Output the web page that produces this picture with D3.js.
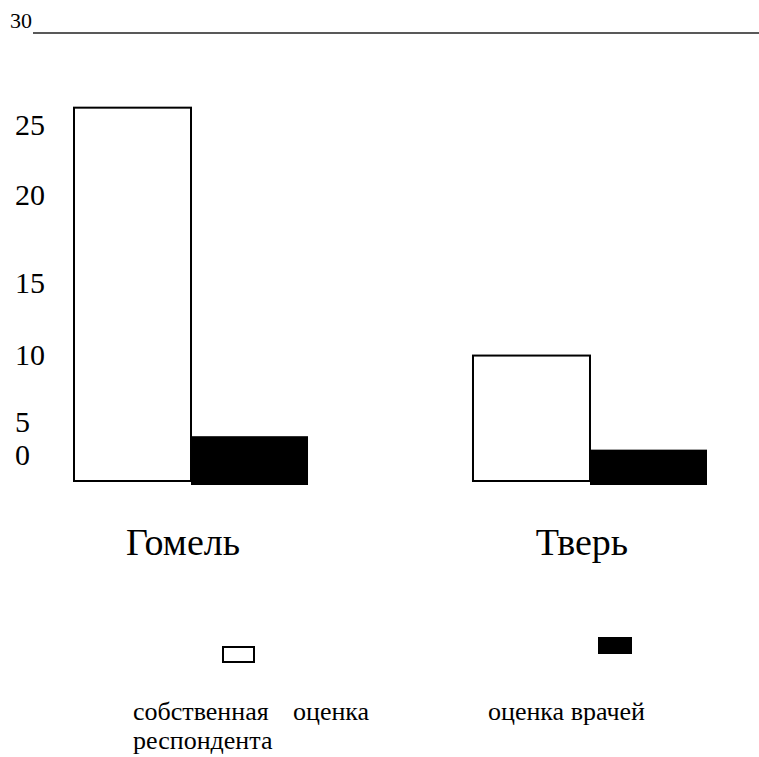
<!DOCTYPE html>
<html lang="ru">
<head>
  <meta charset="UTF-8">
  <title>Гомель / Тверь</title>
  <script src="https://cdn.jsdelivr.net/npm/d3@7"></script>
  <style>
    body { margin: 0; background: #fff; }
    svg text { font-family: "Liberation Serif", "Times New Roman", serif; fill: #000; }
  </style>
</head>
<body>
  <div id="chart"></div>
  <script>
    // data
    const cities = ['Гомель', 'Тверь'];
    const series = ['own', 'doctors'];
    const ownValues = [25, 8.4];
    const doctorValues = [3, 2.1];
    const tickLabels = [0, 5, 10, 15, 20, 25];
    const legendLabels = [['собственная', 'оценка', 'респондента'], ['оценка врачей']];

    const width = 759, height = 757;

    const svg = d3.select('#chart').append('svg')
      .attr('width', width)
      .attr('height', height);

    const y = d3.scaleLinear().domain([0, 30]).range([481, 33]);

    // the tick labels in the scan are not evenly spaced, so they get their own scale
    const yLabel = d3.scaleLinear()
      .domain(tickLabels)
      .range([465, 432, 365, 293, 205, 135]);

    const x0 = d3.scaleBand().domain(cities).range([74, 707]).paddingInner(0.4135);
    const x1 = d3.scaleBand().domain(series).range([0, x0.bandwidth()]);

    // top line with "30"
    svg.append('line')
      .attr('x1', 33).attr('x2', width)
      .attr('y1', y(30)).attr('y2', y(30))
      .attr('stroke', '#222').attr('stroke-width', 1.5);
    svg.append('text')
      .attr('x', 10).attr('y', y(30) - 5)
      .attr('font-size', 22)
      .text('30');

    svg.append('g').selectAll('text')
      .data(tickLabels)
      .join('text')
      .attr('x', 15)
      .attr('y', d => yLabel(d))
      .attr('font-size', 30)
      .text(d => d);

    const groups = svg.append('g').selectAll('g')
      .data(cities)
      .join('g')
      .attr('transform', d => `translate(${x0(d)},0)`);

    groups.append('rect')
      .attr('x', x1('own'))
      .attr('width', x1.bandwidth())
      .attr('y', (d, i) => y(ownValues[i]))
      .attr('height', (d, i) => y(0) - y(ownValues[i]))
      .attr('fill', '#fff')
      .attr('stroke', '#000')
      .attr('stroke-width', 2);

    groups.append('rect')
      .attr('x', x1('doctors'))
      .attr('width', x1.bandwidth())
      .attr('y', (d, i) => y(doctorValues[i]))
      .attr('height', (d, i) => y(0) - y(doctorValues[i]) + 4)
      .attr('fill', '#000');

    groups.append('text')
      .attr('x', x0.bandwidth() / 2 - 8)
      .attr('y', 555)
      .attr('text-anchor', 'middle')
      .attr('font-size', 38)
      .text(d => d);

    // legend
    svg.append('rect')
      .attr('x', 223).attr('y', 647)
      .attr('width', 31).attr('height', 15)
      .attr('fill', '#fff').attr('stroke', '#000').attr('stroke-width', 2);
    svg.append('rect')
      .attr('x', 598).attr('y', 637)
      .attr('width', 34).attr('height', 17)
      .attr('fill', '#000');

    svg.append('text').attr('x', 133).attr('y', 720).attr('font-size', 26).text(legendLabels[0][0]);
    svg.append('text').attr('x', 293).attr('y', 720).attr('font-size', 26).text(legendLabels[0][1]);
    svg.append('text').attr('x', 133).attr('y', 749).attr('font-size', 26).text(legendLabels[0][2]);
    svg.append('text').attr('x', 488).attr('y', 720).attr('font-size', 26).text(legendLabels[1][0]);
  </script>
</body>
</html>
